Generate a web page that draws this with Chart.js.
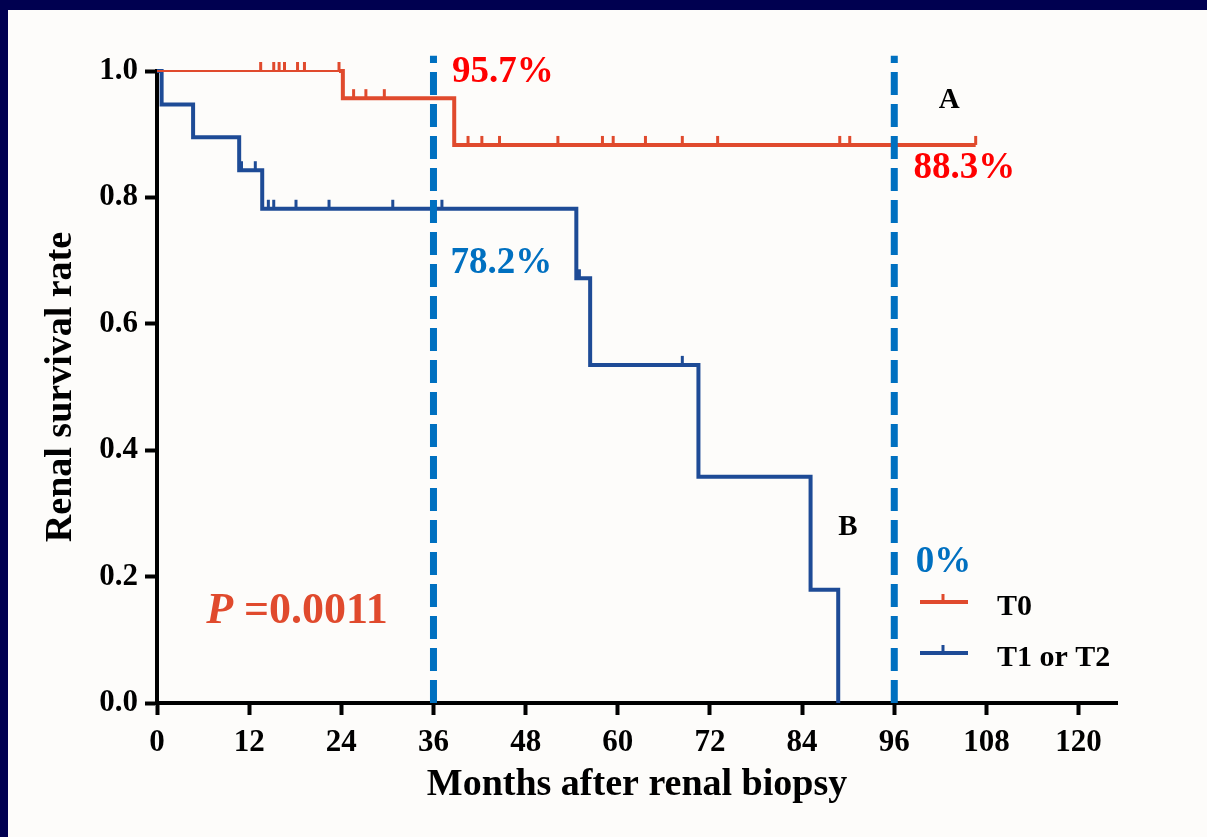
<!DOCTYPE html>
<html>
<head>
<meta charset="utf-8">
<script src="https://cdn.jsdelivr.net/npm/chart.js@4.4.1/dist/chart.umd.min.js"></script>
<style>
  html, body { margin: 0; padding: 0; background: #000050; }
  body { width: 1207px; height: 837px; overflow: hidden; position: relative; }
  #panel { position: absolute; left: 8px; top: 10px; width: 1199px; height: 827px; background: #fdfcfa; }
  canvas { display: block; }
</style>
</head>
<body>
<div id="panel"><canvas id="km-chart" width="1199" height="827"></canvas></div>
<script>
// Eixos
const xTicks = [0, 12, 24, 36, 48, 60, 72, 84, 96, 108, 120];
const yTicks = [0, 0.2, 0.4, 0.6, 0.8, 1.0];
const xMax = 125;

// Curva T0: tempos dos eventos (meses) e sobrevida após cada evento
const t0StepTimes = [0, 24.2, 38.7];
const t0StepSurv = [1, 0.957, 0.883];
const t0CensorTimes = [13.5, 15.2, 15.9, 16.6, 18.3, 19.2, 23.7, 25.6, 27.2, 29.6,
  40.5, 42.3, 44.6, 52.2, 58.0, 59.4, 63.6, 68.4, 73.0, 88.9, 90.2, 106.6];

// Curva T1 ou T2
const t12StepTimes = [0, 0.6, 4.7, 10.7, 13.7, 54.6, 56.4, 70.5, 85.1, 88.7];
const t12StepSurv = [1, 0.947, 0.895, 0.843, 0.782, 0.672, 0.535, 0.358, 0.179, 0];
const t12CensorTimes = [11.0, 12.8, 14.5, 15.2, 18.1, 22.4, 30.7, 37.1, 55.0, 68.4];

// Linhas verticais de referência (36 e 96 meses)
const markTimes = [36, 96];

// Textos sobre o gráfico (posição em meses / sobrevida)
const notes = [
  { text: '95.7%', x: 38.4, y: 0.983, color: '#ff0000', size: 37 },
  { text: '88.3%', x: 98.5, y: 0.831, color: '#ff0000', size: 37 },
  { text: '78.2%', x: 38.2, y: 0.680, color: '#0070c0', size: 37 },
  { text: '0%', x: 98.8, y: 0.207, color: '#0070c0', size: 37 },
  { text: 'A', x: 101.8, y: 0.941, color: '#000000', size: 29 },
  { text: 'B', x: 88.7, y: 0.266, color: '#000000', size: 29 }
];
const pValue = '=0.0011';

const RED = '#e04a2d';
const BLUE = '#1e4b96';
const MARK = '#0070c0';
const FONT = "'Liberation Serif', 'Times New Roman', serif";

// Valor da curva (degrau) num instante t
function survivalAt(times, surv, t) {
  let s = surv[0];
  for (let i = 0; i < times.length; i++) {
    if (times[i] <= t) s = surv[i];
  }
  return s;
}

// Junta eventos e censuras numa lista ordenada de pontos
function buildCurve(stepTimes, stepSurv, censorTimes) {
  const pts = stepTimes.map((t, i) => ({ x: t, y: stepSurv[i], censored: false }));
  censorTimes.forEach(t => {
    pts.push({ x: t, y: survivalAt(stepTimes, stepSurv, t), censored: true });
  });
  pts.sort((a, b) => a.x - b.x || (a.censored ? 1 : -1));
  return pts;
}

const markDatasets = markTimes.map(t => ({
  label: '',
  data: [{ x: t, y: 0 }, { x: t, y: 1.024 }],
  borderColor: MARK,
  borderWidth: 7,
  borderDash: [23, 9],
  borderCapStyle: 'butt',
  pointRadius: 0,
  clip: false,
  isMark: true
}));

function kmDataset(label, color, points, thinBefore) {
  return {
    label: label,
    data: points,
    borderColor: color,
    borderWidth: 4,
    stepped: true,
    clip: false,
    pointStyle: 'dash',
    rotation: -90,
    pointRadius: ctx => (ctx.raw && ctx.raw.censored ? 9 : 0),
    pointBorderColor: color,
    pointBackgroundColor: color,
    pointBorderWidth: 3,
    segment: {
      borderWidth: ctx => (ctx.p0.parsed.x < thinBefore ? 2 : 4)
    }
  };
}

// Legenda desenhada à mão, ao lado da curva
const legendaKM = {
  id: 'legendaKM',
  afterDatasetsDraw(chart) {
    const ctx = chart.ctx;
    const items = chart.data.datasets.filter(d => !d.isMark);
    ctx.save();
    items.forEach((d, i) => {
      const y = 592 + i * 51;
      ctx.strokeStyle = d.borderColor;
      ctx.lineWidth = 4;
      ctx.beginPath();
      ctx.moveTo(912, y);
      ctx.lineTo(960, y);
      ctx.stroke();
      ctx.lineWidth = 3;
      ctx.beginPath();
      ctx.moveTo(935, y);
      ctx.lineTo(935, y - 8);
      ctx.stroke();
      ctx.fillStyle = '#000';
      ctx.font = 'bold 30px ' + FONT;
      ctx.textBaseline = 'alphabetic';
      ctx.textAlign = 'left';
      ctx.fillText(d.label, 989, y + 13);
    });
    ctx.restore();
  }
};

// Percentuais, letras e valor de P
const anotacoes = {
  id: 'anotacoes',
  afterDatasetsDraw(chart) {
    const ctx = chart.ctx;
    const xs = chart.scales.x;
    const ys = chart.scales.y;
    ctx.save();
    ctx.textBaseline = 'alphabetic';
    ctx.textAlign = 'left';
    notes.forEach(n => {
      ctx.fillStyle = n.color;
      ctx.font = 'bold ' + n.size + 'px ' + FONT;
      ctx.fillText(n.text, xs.getPixelForValue(n.x), ys.getPixelForValue(n.y));
    });
    const px = xs.getPixelForValue(6.4);
    const py = ys.getPixelForValue(0.127);
    ctx.fillStyle = RED;
    ctx.font = 'italic bold 44px ' + FONT;
    ctx.fillText('P', px, py);
    const w = ctx.measureText('P ').width;
    ctx.font = 'bold 44px ' + FONT;
    ctx.fillText(pValue, px + w, py);
    ctx.restore();
  }
};

const ctx = document.getElementById('km-chart').getContext('2d');

new Chart(ctx, {
  type: 'line',
  data: {
    datasets: [
      ...markDatasets,
      kmDataset('T0', RED, buildCurve(t0StepTimes, t0StepSurv, t0CensorTimes), 23.5),
      kmDataset('T1 or T2', BLUE, buildCurve(t12StepTimes, t12StepSurv, t12CensorTimes), -1)
    ]
  },
  options: {
    responsive: false,
    animation: false,
    events: [],
    layout: { padding: { left: 0, top: 61, right: 90, bottom: 0 } },
    plugins: {
      legend: { display: false },
      tooltip: { enabled: false }
    },
    scales: {
      x: {
        type: 'linear',
        min: 0,
        max: xMax,
        afterBuildTicks: scale => { scale.ticks = xTicks.map(v => ({ value: v })); },
        afterFit: scale => { scale.height = 134; },
        border: { display: true, color: '#000', width: 4 },
        grid: { display: true, drawOnChartArea: false, drawTicks: true, tickLength: 12, tickWidth: 4, tickColor: '#000' },
        ticks: {
          color: '#000',
          padding: 9,
          maxRotation: 0,
          font: { family: FONT, size: 31, weight: 'bold' }
        },
        title: {
          display: true,
          text: 'Months after renal biopsy',
          color: '#000',
          font: { family: FONT, size: 38, weight: 'bold' },
          padding: { top: 0, bottom: 29 }
        }
      },
      y: {
        min: 0,
        max: 1,
        afterBuildTicks: scale => { scale.ticks = yTicks.map(v => ({ value: v })); },
        afterFit: scale => { scale.width = 149; },
        border: { display: true, color: '#000', width: 4 },
        grid: { display: true, drawOnChartArea: false, drawTicks: true, tickLength: 12, tickWidth: 4, tickColor: '#000' },
        ticks: {
          color: '#000',
          padding: 7,
          font: { family: FONT, size: 31, weight: 'bold' },
          callback: v => v.toFixed(1)
        },
        title: {
          display: true,
          text: 'Renal survival rate',
          color: '#000',
          font: { family: FONT, size: 38, weight: 'bold' },
          padding: { top: 30, bottom: 0 }
        }
      }
    }
  },
  plugins: [anotacoes, legendaKM]
});
</script>
</body>
</html>
